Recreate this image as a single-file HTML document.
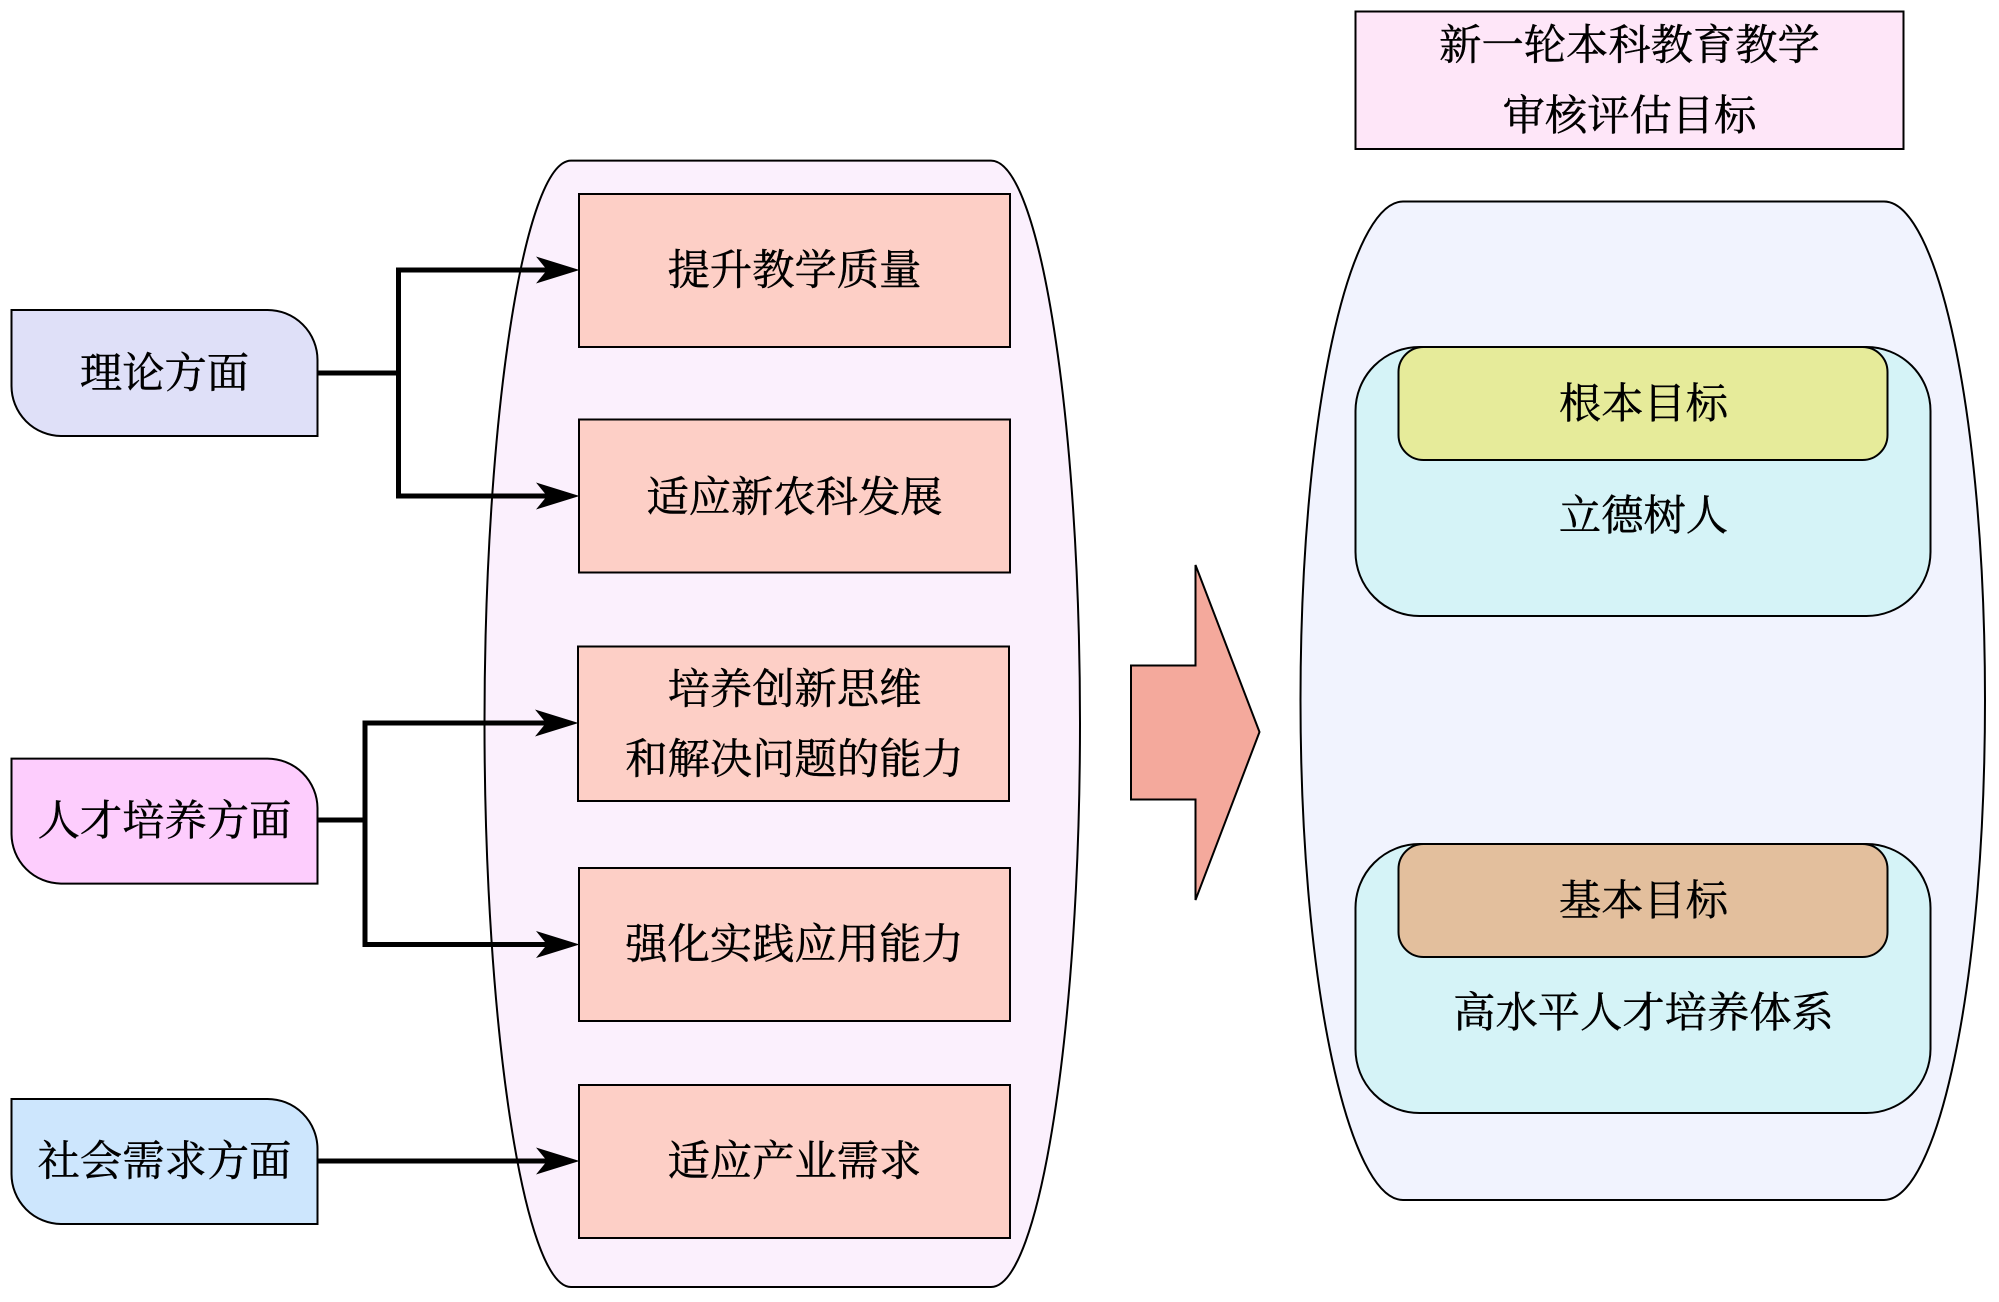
<!DOCTYPE html>
<html lang="zh">
<head>
<meta charset="utf-8">
<style>
html,body{margin:0;padding:0;background:#fff;width:1999px;height:1302px;overflow:hidden}
svg{display:block}
text{font-family:"Liberation Serif","Noto Serif CJK SC",serif;font-size:42.3px;fill:#000;stroke:#000;stroke-width:.45px;text-anchor:middle;dominant-baseline:central}
.s{stroke:#000;stroke-width:2}
.c{fill:none;stroke:#000;stroke-width:5;stroke-linejoin:miter}
</style>
</head>
<body>
<svg width="1999" height="1302" viewBox="0 0 1999 1302" xmlns="http://www.w3.org/2000/svg">
<rect width="1999" height="1302" fill="#fff"/>

<!-- left lozenge -->
<path class="s" fill="#fbf0fd" d="M571,160.6 H991 C1040,160.6 1080,420 1080,723 C1080,1026 1040,1287 991,1287 H571 C524,1287 484.5,1026 484.5,723 C484.5,420 524,160.6 571,160.6 Z"/>

<!-- left tabs -->
<path class="s" fill="#dfe0f8" d="M11.5,310 H267 A50,50 0 0 1 317.5,360 V436 H61 A50,50 0 0 1 11.5,386 Z"/>
<path class="s" fill="#fdcdfd" d="M11.5,758.6 H267 A50,50 0 0 1 317.5,808 V883.6 H61 A50,50 0 0 1 11.5,834 Z"/>
<path class="s" fill="#cde6fd" d="M11.5,1099 H267 A50,50 0 0 1 317.5,1149 V1224 H61 A50,50 0 0 1 11.5,1174 Z"/>

<!-- red boxes -->
<rect class="s" fill="#fdcfc6" x="579" y="194" width="431" height="153"/>
<rect class="s" fill="#fdcfc6" x="579" y="419.5" width="431" height="153"/>
<rect class="s" fill="#fdcfc6" x="578" y="646.5" width="431" height="154.5"/>
<rect class="s" fill="#fdcfc6" x="579" y="868" width="431" height="153"/>
<rect class="s" fill="#fdcfc6" x="579" y="1085" width="431" height="153"/>

<!-- connectors -->
<path class="c" d="M550,270 H398.5 V496 H550 M317,373 H398.5"/>
<path class="c" d="M550,723 H365 V944.5 H550 M317,820 H365"/>
<path class="c" d="M317,1161 H550"/>
<path fill="#000" d="M579.5,270 L536,256.5 L547,270 L536,283.5 Z"/>
<path fill="#000" d="M579.5,496 L536,482.5 L547,496 L536,509.5 Z"/>
<path fill="#000" d="M578.5,723 L535,709.5 L546,723 L535,736.5 Z"/>
<path fill="#000" d="M579.5,944.5 L536,931 L547,944.5 L536,958 Z"/>
<path fill="#000" d="M579.5,1161 L536,1147.5 L547,1161 L536,1174.5 Z"/>

<!-- big arrow -->
<path class="s" fill="#f4a99c" d="M1131,665.5 H1195.5 V565 L1259.5,732 L1195.5,900 V799.5 H1131 Z"/>

<!-- title -->
<rect class="s" fill="#fee6f8" x="1355.5" y="11.5" width="548" height="137.5"/>

<!-- right lozenge -->
<path class="s" fill="#f1f3fe" d="M1403,201.5 H1884 C1937,201.5 1985,410 1985,700 C1985,990 1937,1200 1884,1200 H1403 C1350,1200 1300.5,990 1300.5,700 C1300.5,410 1350,201.5 1403,201.5 Z"/>

<!-- inner groups -->
<rect class="s" fill="#d5f3f7" x="1355.5" y="347" width="575" height="269" rx="64" ry="64"/>
<rect class="s" fill="#e6eb9a" x="1398.5" y="347" width="489" height="113" rx="25" ry="25"/>
<rect class="s" fill="#d5f3f7" x="1355.5" y="844" width="575" height="269" rx="64" ry="64"/>
<rect class="s" fill="#e3bf9d" x="1398.5" y="844" width="489" height="113" rx="25" ry="25"/>

<!-- labels -->
<text x="164.5" y="374">理论方面</text>
<text x="164.5" y="821.5">人才培养方面</text>
<text x="164.5" y="1162">社会需求方面</text>
<text x="794.5" y="271">提升教学质量</text>
<text x="794.5" y="498">适应新农科发展</text>
<text x="794.5" y="690">培养创新思维</text>
<text x="794.5" y="760">和解决问题的能力</text>
<text x="794.5" y="945">强化实践应用能力</text>
<text x="794.5" y="1162">适应产业需求</text>
<text x="1629.5" y="46">新一轮本科教育教学</text>
<text x="1629.5" y="116.5">审核评估目标</text>
<text x="1643.5" y="404.5">根本目标</text>
<text x="1643.5" y="516.5">立德树人</text>
<text x="1643.5" y="901.5">基本目标</text>
<text x="1643.5" y="1013.5">高水平人才培养体系</text>
</svg>
</body>
</html>
